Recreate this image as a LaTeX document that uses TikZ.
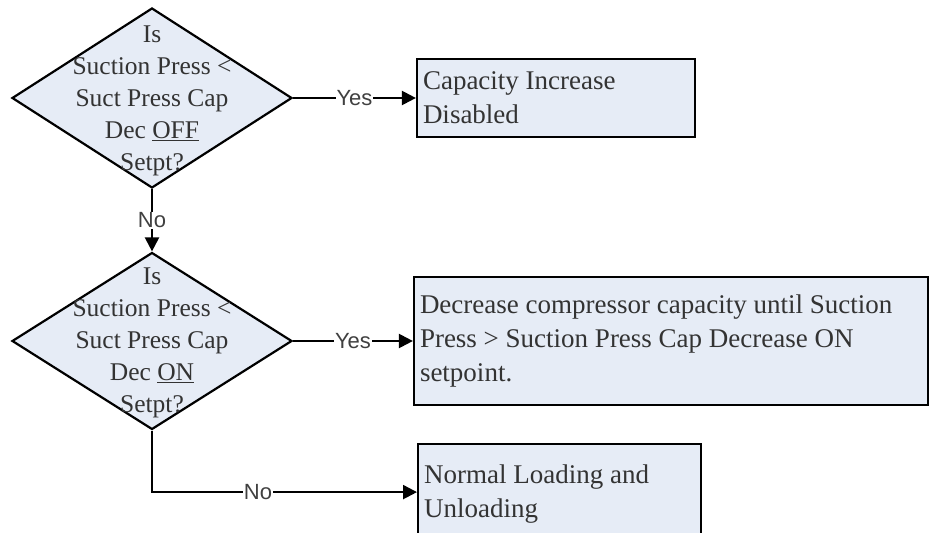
\documentclass[tikz,border=0pt]{standalone}
\usepackage{fontspec}
\setmainfont{Liberation Serif}
\newfontfamily\labelfont{Liberation Sans}
\usepackage{tikz}
\usetikzlibrary{arrows.meta, positioning, shapes.geometric}
\definecolor{boxfill}{HTML}{E6ECF6}
\definecolor{boxtext}{HTML}{333333}
\tikzset{
  decision/.style={
    diamond,
    draw=black,
    fill=boxfill,
    line width=2.2pt,
    inner sep=0pt,
    minimum width=280pt,
    minimum height=180pt
  },
  dectext/.style={
    align=center,
    text=boxtext,
    font=\fontsize{25.5}{32}\selectfont
  },
  block/.style={
    rectangle,
    draw=black,
    fill=boxfill,
    line width=2.2pt,
    align=flush left,
    text=boxtext,
    inner xsep=6pt,
    font=\fontsize{27}{34}\selectfont
  },
  arrow/.style={
    line width=2.2pt,
    -{Triangle[length=14pt,width=14pt]}
  },
  answer/.style={
    fill=white,
    inner sep=1pt,
    text=black!75,
    font=\labelfont\fontsize{22}{22}\selectfont
  }
}

\begin{document}
\begin{tikzpicture}[x=1pt, y=1pt]
  \useasboundingbox (0,0) rectangle (930,533);

  % Decisions
  \node[decision] (offchk) at (152,435) {};
  \node[dectext] (offtxt) at ([yshift=-3pt]offchk.center) {Is\\Suction Press <\\Suct Press Cap\\Dec \underline{OFF}\\Setpt?};
  \node[decision, minimum height=177pt] (onchk) at (152,192) {};
  \node[dectext] (ontxt) at ([yshift=-2pt]onchk.center) {Is\\Suction Press <\\Suct Press Cap\\Dec \underline{ON}\\Setpt?};

  % Actions
  \node[block, text width=266pt, minimum height=78pt] (incdis) at (556,435) {Capacity Increase\\Disabled};
  \node[block, text width=502pt, minimum height=128pt] (capdec) at (671,192) {Decrease compressor capacity until Suction\\Press > Suction Press Cap Decrease ON\\setpoint.};
  \node[block, text width=271pt, minimum height=100pt, anchor=north west] (normal) at (417,90) {Normal Loading and\\Unloading};

  % Connectors
  \draw[arrow] (offchk.east) -- (incdis.west) node[answer, midway] {Yes};
  \draw[arrow] (offchk.south) -- (onchk.north) node[answer, midway] {No};
  \draw[arrow] (onchk.east) -- (onchk.east -| capdec.west) node[answer, midway] {Yes};
  \draw[arrow] (onchk.south) |- ([yshift=2pt]normal.west) node[answer, pos=0.7] {No};
\end{tikzpicture}
\end{document}
